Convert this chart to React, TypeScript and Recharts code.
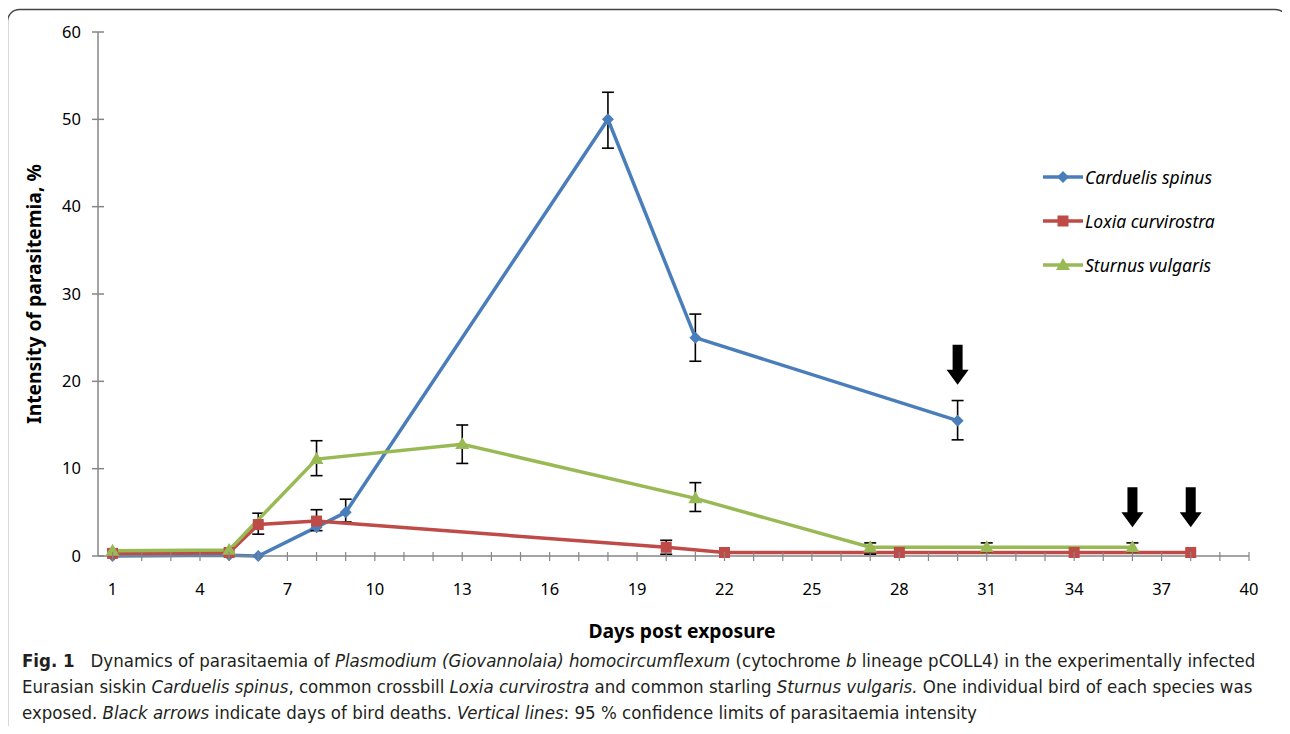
import React from 'react'
import { LineChart, Line, XAxis, YAxis, ErrorBar, ReferenceDot } from 'recharts'

// days post exposure and parasitaemia (%) per species
const spinusDays = [1, 5, 6, 8, 9, 18, 21, 30]
const spinusVals = [0, 0.1, 0, 3.3, 5.0, 50, 25, 15.5]
const spinusErr: (number[] | null)[] = [null, null, null, null, [1.1, 1.5], [3.3, 3.1], [2.7, 2.7], [2.2, 2.3]]

const loxiaDays = [1, 5, 6, 8, 20, 22, 28, 34, 38]
const loxiaVals = [0.3, 0.4, 3.6, 4.0, 1.0, 0.4, 0.4, 0.4, 0.4]
const loxiaErr: (number[] | null)[] = [null, null, [1.1, 1.3], [1.1, 1.3], [0.8, 0.8], null, null, null, null]

const sturnusDays = [1, 5, 8, 13, 21, 27, 31, 36]
const sturnusVals = [0.6, 0.7, 11.1, 12.8, 6.6, 1.0, 1.0, 1.0]
const sturnusErr: (number[] | null)[] = [null, null, [1.9, 2.1], [2.2, 2.2], [1.5, 1.8], [0.8, 0.5], [0.5, 0.5], [0.5, 0.5]]

// bird deaths (arrow tips)
const deathDays = [30, 36, 38]
const deathTips = [19.6, 3.3, 3.3]

const xTicks = Array.from({ length: 40 }, (_, i) => i + 1)
const yTicks = [0, 10, 20, 30, 40, 50, 60]

const BLUE = '#4A7EBB'
const RED = '#BE4B48'
const GREEN = '#98B954'
const AXIS = '#868686'
const FONT = '"Noto Sans", "Open Sans", sans-serif'

const toRows = (days: number[], vals: number[], err: (number[] | null)[]) =>
  days.map((d, i) => ({ day: d, value: vals[i], err: err[i] }))

const spinusData = toRows(spinusDays, spinusVals, spinusErr)
const loxiaData = toRows(loxiaDays, loxiaVals, loxiaErr)
const sturnusData = toRows(sturnusDays, sturnusVals, sturnusErr)

const Diamond = ({ cx, cy, fill }: any) => {
  if (cx == null || cy == null) return null
  const r = 6
  return <path d={`M${cx},${cy - r}L${cx + r},${cy}L${cx},${cy + r}L${cx - r},${cy}Z`} fill={fill} />
}
const Square = ({ cx, cy, fill }: any) => {
  if (cx == null || cy == null) return null
  const r = 5.5
  return <rect x={cx - r} y={cy - r} width={r * 2} height={r * 2} fill={fill} />
}
const Triangle = ({ cx, cy, fill }: any) => {
  if (cx == null || cy == null) return null
  const r = 7
  return <path d={`M${cx},${cy - r}L${cx + r},${cy + r * 0.7}L${cx - r},${cy + r * 0.7}Z`} fill={fill} />
}

const Arrow = ({ cx, cy }: any) => {
  if (cx == null || cy == null) return null
  return (
    <path
      d={`M${cx - 5},${cy - 40}L${cx + 5},${cy - 40}L${cx + 5},${cy - 15}L${cx + 11},${cy - 15}L${cx},${cy}L${cx - 11},${cy - 15}L${cx - 5},${cy - 15}Z`}
      fill="#000"
    />
  )
}

const XTick = ({ x, y, payload }: any) => {
  const v = payload.value
  return (
    <g>
      <line x1={x} x2={x} y1={y - 4} y2={y + 5} stroke={AXIS} strokeWidth={1.2} />
      {(v - 1) % 3 === 0 && (
        <text x={x} y={y + 39} textAnchor="middle" fontSize={16.5} fill="#000" fontFamily={FONT}>
          {v}
        </text>
      )}
    </g>
  )
}

const YTick = ({ x, y, payload }: any) => (
  <g>
    <line x1={x - 6} x2={x + 6} y1={y} y2={y} stroke={AXIS} strokeWidth={1.5} />
    <text x={x - 17} y={y} dy="0.35em" textAnchor="end" fontSize={16.5} fill="#000" fontFamily={FONT}>
      {payload.value}
    </text>
  </g>
)

const legendItems = [
  { name: 'Carduelis spinus', color: BLUE, Marker: Diamond },
  { name: 'Loxia curvirostra', color: RED, Marker: Square },
  { name: 'Sturnus vulgaris', color: GREEN, Marker: Triangle },
]

const LegendBox = () => (
  <div style={{ position: 'absolute', left: 1043, top: 155 }}>
    {legendItems.map(({ name, color, Marker }) => (
      <div key={name} style={{ display: 'flex', alignItems: 'center', height: 44 }}>
        <svg width={41} height={16}>
          <line x1={0} x2={40} y1={8} y2={8} stroke={color} strokeWidth={3.5} />
          <Marker cx={20} cy={8} fill={color} />
        </svg>
        <span style={{ fontFamily: FONT, fontStyle: 'italic', fontSize: 17.5, color: '#000', marginLeft: 1 }}>{name}</span>
      </div>
    ))}
  </div>
)

const errBar = <ErrorBar dataKey="err" direction="y" width={6} stroke="#000" strokeWidth={1.6} />

export default function App() {
  return (
    <div style={{ position: 'relative', width: 1290, height: 734, margin: -8, overflow: 'hidden', background: '#fff' }}>
      <div style={{ position: 'absolute', left: 0, top: 0 }}>
        <LineChart width={1290} height={640} margin={{ top: 32, right: 41, bottom: 54, left: 38 }}>
          <XAxis
            type="number"
            dataKey="day"
            domain={[0.5, 40]}
            ticks={xTicks}
            interval={0}
            allowDuplicatedCategory={false}
            tick={<XTick />}
            tickLine={false}
            tickSize={0}
            tickMargin={0}
            height={30}
            axisLine={{ stroke: AXIS, strokeWidth: 1.5 }}
          />
          <YAxis
            type="number"
            domain={[0, 60]}
            ticks={yTicks}
            interval={0}
            tick={<YTick />}
            tickLine={false}
            tickSize={0}
            tickMargin={0}
            width={60}
            axisLine={{ stroke: AXIS, strokeWidth: 1.5 }}
          />
          <Line data={spinusData} dataKey="value" name="Carduelis spinus" stroke={BLUE} strokeWidth={3.5}
            dot={<Diamond fill={BLUE} />} activeDot={false} isAnimationActive={false}>
            {errBar}
          </Line>
          <Line data={loxiaData} dataKey="value" name="Loxia curvirostra" stroke={RED} strokeWidth={3.5}
            dot={<Square fill={RED} />} activeDot={false} isAnimationActive={false}>
            {errBar}
          </Line>
          <Line data={sturnusData} dataKey="value" name="Sturnus vulgaris" stroke={GREEN} strokeWidth={3.5}
            dot={<Triangle fill={GREEN} />} activeDot={false} isAnimationActive={false}>
            {errBar}
          </Line>
          {deathDays.map((d, i) => (
            <ReferenceDot key={d} x={d} y={deathTips[i]} shape={(p: any) => <Arrow cx={p.cx} cy={p.cy} />} ifOverflow="visible" />
          ))}
        </LineChart>
      </div>
      <LegendBox />
      <div
        style={{
          position: 'absolute', left: 33, top: 294, transform: 'translate(-50%, -50%) rotate(-90deg)',
          fontFamily: FONT, fontWeight: 700, fontSize: 19.3, color: '#000', whiteSpace: 'nowrap',
        }}
      >
        Intensity of parasitemia, %
      </div>
      <div
        style={{
          position: 'absolute', left: 682, top: 630, transform: 'translate(-50%, -50%)',
          fontFamily: FONT, fontWeight: 700, fontSize: 19.3, color: '#000', whiteSpace: 'nowrap',
        }}
      >
        Days post exposure
      </div>
      <div
        style={{
          position: 'absolute', left: 22, top: 648, fontFamily: '"Liberation Sans Narrow", "DejaVu Sans Condensed", sans-serif',
          fontSize: 18.5, lineHeight: '26px', color: '#231f20', whiteSpace: 'nowrap',
        }}
      >
        <div>
          <b>Fig. 1</b>&nbsp;&nbsp; Dynamics of parasitaemia of <i>Plasmodium (Giovannolaia) homocircumflexum</i> (cytochrome <i>b</i> lineage pCOLL4) in the experimentally infected
        </div>
        <div>
          Eurasian siskin <i>Carduelis spinus</i>, common crossbill <i>Loxia curvirostra</i> and common starling <i>Sturnus vulgaris.</i> One individual bird of each species was
        </div>
        <div>
          exposed. <i>Black arrows</i> indicate days of bird deaths. <i>Vertical lines</i>: 95 % confidence limits of parasitaemia intensity
        </div>
      </div>
      <svg width={1290} height={734} style={{ position: 'absolute', left: 0, top: 0, pointerEvents: 'none' }}>
        <rect x={7.5} y={9.5} width={1280} height={800} rx={12} ry={12} fill="none" stroke="#444" strokeWidth={1.4} />
      </svg>
    </div>
  )
}
